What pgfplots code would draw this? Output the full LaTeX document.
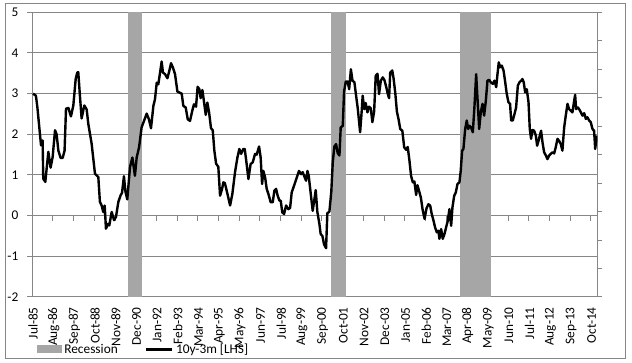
\documentclass[border=0pt]{standalone}
\usepackage{pgfplots}
\pgfplotsset{compat=1.18}
\usepackage{fontspec}
\setmainfont{Carlito}
\definecolor{gridgray}{RGB}{134,134,134}
\definecolor{recgray}{RGB}{166,166,166}
\definecolor{framegray}{RGB}{134,134,134}
\begin{document}
\begin{tikzpicture}
\path (0pt,0pt) rectangle (474pt,272.25pt);
\draw[framegray, line width=0.75pt] (4.1pt,3pt) rectangle (468.75pt,269.25pt);
% zero line with its tick marks, and right-hand secondary axis ticks
\begin{axis}[
  scale only axis, width=423.75pt, height=213.5pt,
  at={(24.2pt,49.5pt)}, anchor=south west,
  xmin=-0.5, xmax=354.5, ymin=-2, ymax=5,
  axis x line*=middle, axis y line*=right,
  xtick={-0.5,12.5,25.5,38.5,51.5,64.5,77.5,90.5,103.5,116.5,129.5,142.5,155.5,168.5,181.5,194.5,207.5,220.5,233.5,246.5,259.5,272.5,285.5,298.5,311.5,324.5,337.5,350.5},
  xticklabels={},
  ytick={-2,-1.3,-0.6,0.1,0.8,1.5,2.2,2.9,3.6,4.3,5},
  yticklabels={},
  tick align=outside, xtick align=outside, major tick length=3.75pt,
  axis line style={gridgray, line width=0.75pt},
  tick style={gridgray, line width=0.75pt},
]
\addplot[draw=none, forget plot] coordinates {(0,0)};
\end{axis}
\begin{axis}[
  scale only axis, width=423.75pt, height=213.5pt,
  at={(24.2pt,49.5pt)}, anchor=south west,
  xmin=-0.5, xmax=354.5, ymin=-2, ymax=5,
  font=\fontsize{10}{12}\selectfont,
  ytick={-2,-1,0,1,2,3,4,5},
  yticklabels={-2,-1,0,1,2,3,4,5},
  ymajorgrids, grid style={gridgray, line width=0.75pt},
  axis line style={gridgray, line width=0.75pt},
  tick pos=left,
  ytick align=outside, xtick align=inside, major tick length=3.75pt,
  ytick style={gridgray, line width=0.75pt},
  xtick style={draw=none},
  yticklabel style={inner sep=0pt, xshift=-6.5pt},
  xtick={0,13,...,351},
  xticklabels={Jul-85,Aug-86,Sep-87,Oct-88,Nov-89,Dec-90,Jan-92,Feb-93,Mar-94,Apr-95,May-96,Jun-97,Jul-98,Aug-99,Sep-00,Oct-01,Nov-02,Dec-03,Jan-05,Feb-06,Mar-07,Apr-08,May-09,Jun-10,Jul-11,Aug-12,Sep-13,Oct-14},
  xticklabel style={rotate=90, anchor=east, inner sep=0pt},
  xticklabel shift=7.5pt,
  legend columns=2,
  legend style={at={(0.0078,-0.1844)}, anchor=west, draw=none, fill=none,
    inner sep=0pt, outer sep=0pt, font=\fontsize{10}{12}\selectfont,
    /tikz/every even column/.append style={column sep=18pt}},
  legend cell align=left,
]
\addplot[fill=recgray, draw=none, area legend,
  legend image code/.code={\fill[recgray] (0pt,-3pt) rectangle (18.75pt,3pt);}]
  coordinates {(59.5,-2) (59.5,5) (68.5,5) (68.5,-2)};
\addlegendentry{Recession}
\addplot[fill=recgray, draw=none, forget plot]
  coordinates {(187.5,-2) (187.5,5) (196.5,5) (196.5,-2)};
\addplot[fill=recgray, draw=none, forget plot]
  coordinates {(268.5,-2) (268.5,5) (287.5,5) (287.5,-2)};
\addplot[black, line width=1.8pt, line join=round,
  legend image code/.code={\draw[black, line width=1.8pt] (0pt,0pt) -- (20pt,0pt);}]
  coordinates {
(0,3.0) (1.8,2.95) (2.7,2.67) (3.9,2.18) (5,1.73) (6,1.85) (6.4,0.91) (7.7,0.83)
(9.6,1.57) (11,1.18) (12.3,1.44) (13.8,2.1) (14.8,2.0) (15.9,1.6) (17.3,1.42)
(18.6,1.42) (19.8,1.6) (20.7,2.63) (22.2,2.65) (23.8,2.44) (25.3,2.71) (26.8,3.37)
(27.8,3.52) (28.4,3.53) (29.5,2.92) (30.5,2.39) (32.2,2.71) (33.7,2.61) (34.7,2.26)
(36.8,1.77) (38.9,1.03) (41,0.95) (42,0.34) (43.1,0.25) (44.1,0.09) (45,0.25)
(45.8,-0.32) (47.1,-0.2) (47.9,-0.24) (49.4,0.09) (50.9,-0.11) (52.1,-0.03)
(53.6,0.34) (55,0.5) (55.9,0.56) (57.1,0.97) (58,0.6) (59.2,0.4) (60.9,1.19)
(62.4,1.43) (64,0.98) (65.1,1.43) (66.6,1.68) (68.2,2.17) (69.7,2.33) (71.4,2.51)
(72.8,2.37) (74.1,2.15) (75.6,2.7) (76.6,2.86) (77.7,3.27) (78.7,3.23) (79.8,3.52)
(80.8,3.79) (81.6,3.52) (82.9,3.48) (84.4,3.38) (85.6,3.56) (86.7,3.75) (87.9,3.64)
(89.2,3.48) (90.7,3.05) (91.9,3.03) (93.4,3.0) (94.4,2.7) (95.9,2.66) (97.2,2.37)
(98.6,2.33) (100.1,2.59) (101.1,2.74) (102.4,2.68) (103.4,3.17) (104.5,3.11)
(105.3,2.89) (106.4,3.09) (107.4,2.8) (108.5,2.48) (109.5,2.78) (110.6,2.54)
(111.8,2.15) (112.9,2.1) (113.9,1.6) (115,1.28) (116.4,1.2) (117.5,0.49)
(118.7,0.65) (119.6,0.82) (120.5,0.8) (121.7,0.61) (123.8,0.25) (125.2,0.53)
(126.9,1.07) (128.4,1.43) (129.6,1.64) (130.7,1.52) (132.1,1.64) (133,1.64)
(134.2,1.27) (135.3,0.9) (136.7,1.27) (138,1.31) (139.5,1.52) (140.5,1.5)
(142,1.7) (143,1.43) (143.9,0.78) (144.7,1.1) (145.8,0.94) (146.8,0.66)
(147.9,0.53) (149.3,0.33) (150.6,0.33) (151.6,0.61) (152.7,0.66) (153.7,0.49)
(154.8,0.37) (155.6,0.37) (156.6,0.08) (157.7,0.04) (159,0.25) (160.4,0.16)
(161.5,0.19) (162.5,0.57) (164,0.74) (165.7,0.94) (167.1,1.1) (168.4,1.02)
(169.4,1.07) (170.3,0.98) (171.5,0.86) (172.4,1.1) (173.2,0.98) (174.5,0.53)
(175.7,0.12) (176.8,0.41) (177.6,0.63) (178.6,0.1) (179.9,-0.2) (180.7,-0.45)
(181.8,-0.5) (182.8,-0.7) (184.1,-0.8) (184.9,0.06) (186.2,0.1) (187.4,0.6)
(188.3,1.31) (189.3,1.7) (190.4,1.76) (191.4,1.54) (192.5,1.48) (193.3,2.17)
(194.6,2.21) (195.4,3.05) (196.5,3.3) (197.7,3.3) (198.6,3.11) (199.7,3.6)
(200.7,3.32) (201.9,3.28) (202.9,2.97) (204,2.64) (205.5,2.05) (206.5,2.58)
(207.1,2.95) (208.1,2.62) (209,2.77) (210.1,2.54) (211.1,2.68) (212.2,2.64)
(213.2,2.3) (214.3,2.56) (215.3,3.44) (216.4,3.49) (217.4,2.99) (218.5,3.32)
(219.7,3.4) (220.8,3.33) (221.8,3.18) (222.9,2.99) (223.7,2.89) (224.4,3.52)
(225.7,3.57) (226.5,3.38) (227.6,3.01) (228.6,2.56) (229.7,2.36) (230.7,2.13)
(232,2.09) (233.2,1.68) (234.4,1.62) (235.4,1.69) (236.5,1.35) (237.5,0.98)
(238.6,0.82) (239.6,0.84) (240.7,0.51) (241.5,0.75) (242.6,0.6) (243.7,0.44)
(244.7,0.16) (246,-0.08) (247.2,0.18) (248.4,0.28) (249.5,0.25) (250.5,0.04)
(251.6,-0.12) (252.6,-0.29) (253.7,-0.41) (254.7,-0.37) (255.3,-0.57) (256.4,-0.33)
(257.4,-0.57) (258.5,-0.45) (259.5,-0.29) (260.6,-0.12) (261.6,0.16) (262.7,-0.25)
(263.5,0.2) (264.6,0.49) (265.6,0.57) (266.7,0.78) (267.9,0.82) (268.7,1.1)
(269.6,1.6) (270.4,1.64) (271.5,2.13) (272.5,2.34) (273.4,2.13) (274.2,2.21)
(275.2,2.17) (276.3,2.05) (277.3,2.66) (278.4,3.48) (279.2,2.91) (280.3,2.13)
(281.3,2.54) (282.4,2.75) (283.4,2.46) (284.5,2.83) (285.5,3.32) (286.6,3.34)
(287.6,3.28) (288.9,3.24) (289.9,3.32) (291,3.16) (291.8,3.48) (292.6,3.77)
(293.5,3.65) (294.5,3.69) (295.6,3.57) (296.6,3.3) (297.6,3.0) (298.7,2.79)
(299.7,2.75) (300.4,2.34) (301.4,2.34) (302.5,2.5) (303.5,2.66) (304.6,3.2)
(305.6,3.28) (306.7,3.32) (307.5,3.36) (308.3,3.28) (309.2,3.03) (310.2,3.11)
(311.3,2.79) (312.1,2.13) (312.9,1.89) (313.8,2.11) (314.8,2.09) (315.9,1.97)
(316.7,1.72) (317.6,1.84) (318.4,1.97) (319.2,2.09) (320.1,1.8) (321.1,1.56)
(322.2,1.48) (323.2,1.39) (324.3,1.48) (325.3,1.52) (326.4,1.56) (327.4,1.53)
(328.4,1.68) (329.5,1.89) (330.5,1.84) (331.6,1.76) (332.6,1.6) (333.7,2.17)
(334.7,2.46) (335.8,2.75) (336.8,2.62) (337.9,2.58) (338.9,2.54) (340,2.83)
(340.6,2.97) (341.2,2.62) (342.3,2.66) (343.1,2.62) (344.2,2.54) (345.2,2.46)
(346.3,2.52) (347.3,2.38) (348.3,2.42) (349.4,2.34) (350.4,2.3) (351.5,2.13)
(352.5,2.09) (353.2,1.64) (354.2,1.97)
  };
\addlegendentry{10y-3m [LHS]}
\end{axis}
\end{tikzpicture}
\end{document}
